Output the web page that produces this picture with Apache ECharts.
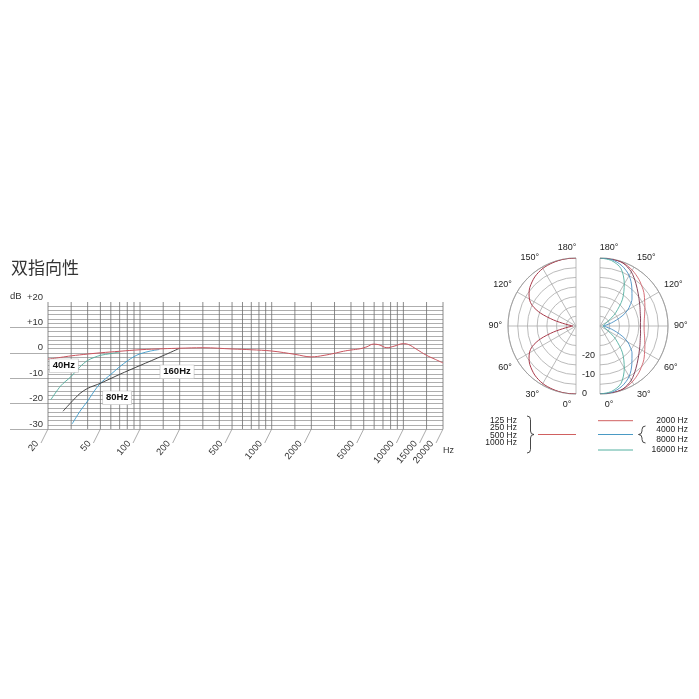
<!DOCTYPE html>
<html><head><meta charset="utf-8">
<script src="https://cdn.jsdelivr.net/npm/echarts@6/dist/echarts.min.js"></script>
<style>html,body{margin:0;padding:0;background:#fff}#c{width:699px;height:699px}</style>
</head><body><div id="c"></div><script>
// ---- frequency response chart data ----
const gridFreqs = [20,30,40,50,60,70,80,90,100,150,200,300,400,500,600,700,800,900,1000,1500,2000,3000,4000,5000,6000,7000,8000,9000,10000,15000,20000];
const tickLabels = [20,50,100,200,500,1000,2000,5000,10000,15000,20000];
const respFreq = [20,25,30,40,50,70,100,150,200,300,500,700,1000,1500,2000,2500,3000,3500,4000,4700,5300,5900,6500,7500,8500,10000,11000,12500,15000,17500,20000];
const respDb   = [-2.5,-1.8,-1.2,-0.5,0,0.6,1.2,1.6,1.8,2.0,1.5,1.2,0.7,-0.6,-1.6,-1.0,-0.2,0.6,1.1,1.6,2.4,3.4,3.2,2.0,2.6,3.6,3.2,1.5,-1.0,-2.6,-4.0];
const cut40Freq = [21,25,30,35,40,45,50,60,70];
const cut40Db   = [-18.5,-13,-9.3,-5.5,-3,-1.8,-1.0,-0.3,0.3];
const cut80Freq = [30.5,35,40,45,50,60,70,80,90,100,120,140];
const cut80Db   = [-28,-23,-19,-15,-12,-8.5,-5.5,-3.2,-1.5,-0.4,0.7,1.3];
const cut160Freq = [26,30,35,40,50,70,100,150,200];
const cut160Db   = [-23,-19.5,-16,-14,-12,-8.5,-5,-1.1,1.8];
const cutNames = ['40Hz','80Hz','160Hz'];
const cutLabelFreq = [26.4,67,191];
const cutLabelDb = [-5.1,-17.7,-7.5];

// ---- polar pattern data (angle in degrees, level in dB) ----
const polarAngles = [0,10,20,30,40,50,55,60,65,70,75,80,85,90,95,100,105,110,115,120,125,130,140,150,160,170,180];
const lowDb   = [0,0,-0.3,-0.8,-2.0,-4.0,-5.5,-7.3,-10.2,-15.5,-23,-29.5,-32.5,-33.3,-32.5,-29.5,-23,-15.5,-10.2,-7.3,-5.5,-4.0,-2.0,-0.8,-0.3,0,0];
const db2000  = [0,0,-0.4,-1.8,-3.8,-6.0,-7.2,-8.5,-9.5,-10.5,-11.2,-11.8,-12.2,-12.3,-12.2,-11.8,-11.2,-10.5,-9.5,-8.5,-7.2,-6.0,-3.8,-1.8,-0.4,0,0];
const db4000  = [0,0,-0.5,-2.8,-6.3,-9.3,-10.5,-11.5,-12.3,-13,-13.5,-13.8,-14.1,-14.2,-14.1,-13.8,-13.5,-13,-12.3,-11.5,-10.5,-9.3,-6.3,-2.8,-0.5,0,0];
const db8000  = [0,-0.3,-2,-5,-9.5,-13.5,-16,-18.5,-22,-26,-29,-31.5,-32.8,-33.3,-32.8,-31.5,-29,-26,-22,-18.5,-16,-13.5,-9.5,-5,-2,-0.3,0];
const db16000 = [0,-0.8,-3.5,-10,-17,-24.5,-28,-30.5,-31.8,-32.5,-33,-33.2,-33.3,-33.4,-33.3,-33.2,-33,-32.5,-31.8,-30.5,-28,-24.5,-17,-10,-3.5,-0.8,0];

const FONT = 'Liberation Sans';
const zip = (xs, ys) => xs.map((x, i) => [x, ys[i]]);
const polarData = (dbs) => dbs.map((d, i) => [d, polarAngles[i]]);

const chart = echarts.init(document.getElementById('c'), null, {renderer: 'canvas'});

function angleLabel(v) {
  if (v === 0 || v === 180) return '{s|' + v + '°}';
  return v + '°';
}

// brace decoration: dir = 1 points right, -1 points left
function brace(x, yTop, yMid, yBot, dir) {
  const h = 3.5 * dir, st = {stroke: '#333', lineWidth: 0.9, fill: null};
  const xs = x + h;
  return [
    {type: 'bezierCurve', shape: {x1: x, y1: yTop, cpx1: xs, cpy1: yTop, x2: xs, y2: yTop + 3.5}, style: st},
    {type: 'line', shape: {x1: xs, y1: yTop + 3.5, x2: xs, y2: yMid - 3.5}, style: st},
    {type: 'bezierCurve', shape: {x1: xs, y1: yMid - 3.5, cpx1: xs, cpy1: yMid, x2: xs + h, y2: yMid}, style: st},
    {type: 'bezierCurve', shape: {x1: xs + h, y1: yMid, cpx1: xs, cpy1: yMid, x2: xs, y2: yMid + 3.5}, style: st},
    {type: 'line', shape: {x1: xs, y1: yMid + 3.5, x2: xs, y2: yBot - 3.5}, style: st},
    {type: 'bezierCurve', shape: {x1: xs, y1: yBot - 3.5, cpx1: xs, cpy1: yBot, x2: x, y2: yBot}, style: st}
  ];
}

const angleCommon = {
  type: 'value', min: 0, max: 180, interval: 30,
  axisLine: {show: true, lineStyle: {color: '#999', width: 0.8}},
  axisTick: {show: false},
  splitLine: {show: true, lineStyle: {color: '#aaa', width: 0.8}}
};
const radiusCommon = {
  type: 'value', min: -35, max: 0, interval: 5,
  axisLine: {show: false}, axisTick: {show: false},
  splitLine: {show: true, lineStyle: {color: '#aaa', width: 0.8}}
};

const txt = (x, y, s, align) => ({type: 'text', x: x, y: y, style: {text: s, fontSize: 8.5, fill: '#222', fontFamily: FONT, align: align || 'right', verticalAlign: 'middle'}});

const option = {
  animation: false,
  title: {text: '双指向性', left: 6, top: 254, textStyle: {fontSize: 17, fontWeight: 'normal', color: '#333', fontFamily: 'Noto Sans CJK SC'}},
  grid: {left: 48, top: 302, width: 395, height: 127, containLabel: false},
  xAxis: {type: 'log', logBase: 10, min: 20, max: 20000,
    axisLine: {show: false}, axisTick: {show: false}, axisLabel: {show: false}, splitLine: {show: false}},
  yAxis: {type: 'value', min: -30, max: 20, interval: 10,
    axisLine: {show: false},
    axisTick: {show: true, inside: false, length: 38, lineStyle: {color: '#999', width: 0.8}, customValues: [-30, -20, -10, 0, 10]},
    axisLabel: {formatter: v => (v > 0 ? '+' + v : '' + v), verticalAlign: 'bottom', margin: 5, fontSize: 9.5, color: '#333', fontFamily: FONT},
    splitLine: {show: true, lineStyle: {color: '#999', width: 0.8}},
    minorTick: {show: false, splitNumber: 6},
    minorSplitLine: {show: true, lineStyle: {color: '#999', width: 0.8}}
  },
  polar: [
    {center: [576, 326], radius: 68},
    {center: [600, 326], radius: 68}
  ],
  angleAxis: [
    Object.assign({}, angleCommon, {polarIndex: 0, startAngle: 270, endAngle: 90, clockwise: true,
      axisLabel: {margin: 6, fontSize: 9, color: '#222', fontFamily: FONT, formatter: angleLabel,
        rich: {s: {fontSize: 9, color: '#222', fontFamily: FONT, padding: [0, 18, 0, 0]}}}}),
    Object.assign({}, angleCommon, {polarIndex: 1, startAngle: -90, endAngle: 90, clockwise: false,
      axisLabel: {margin: 6, fontSize: 9, color: '#222', fontFamily: FONT, formatter: angleLabel,
        rich: {s: {fontSize: 9, color: '#222', fontFamily: FONT, padding: [0, 0, 0, 18]}}}})
  ],
  radiusAxis: [
    Object.assign({}, radiusCommon, {polarIndex: 0,
      axisLabel: {show: true, fontSize: 9, color: '#222', fontFamily: FONT, margin: 6,
        formatter: v => ([-20, -10, 0].indexOf(v) >= 0 ? String(v) : '')}}),
    Object.assign({}, radiusCommon, {polarIndex: 1, axisLabel: {show: false}})
  ],
  graphic: {elements: [
    {type: 'text', x: 10, y: 296, style: {text: 'dB', fontSize: 9.5, fill: '#333', fontFamily: FONT, verticalAlign: 'middle'}},
    {type: 'text', x: 443, y: 451, style: {text: 'Hz', fontSize: 9, fill: '#333', fontFamily: FONT, verticalAlign: 'middle'}},
    txt(517, 420.5, '125 Hz'), txt(517, 428, '250 Hz'), txt(517, 435.5, '500 Hz'), txt(517, 443, '1000 Hz'),
    txt(688, 420.7, '2000 Hz'), txt(688, 430, '4000 Hz'), txt(688, 439.7, '8000 Hz'), txt(688, 450, '16000 Hz'),
    {type: 'line', shape: {x1: 538, y1: 434.5, x2: 576, y2: 434.5}, style: {stroke: '#d06060', lineWidth: 1}},
    {type: 'line', shape: {x1: 598, y1: 420.7, x2: 633, y2: 420.7}, style: {stroke: '#d06060', lineWidth: 1}},
    {type: 'line', shape: {x1: 598, y1: 434.5, x2: 633, y2: 434.5}, style: {stroke: '#4a9ac4', lineWidth: 1}},
    {type: 'line', shape: {x1: 598, y1: 450, x2: 633, y2: 450}, style: {stroke: '#52b0a0', lineWidth: 1}}
  ].concat(brace(527, 416, 434.5, 453, 1), brace(645.5, 426, 434.5, 443, -1))},
  series: [
    {type: 'custom', name: 'vgrid', xAxisIndex: 0, yAxisIndex: 0, silent: true, z: 1, clip: false,
      data: gridFreqs.map(f => [f, -30]), encode: {x: 0, y: 1},
      renderItem: (p, api) => {
        const f = api.value(0);
        const a = api.coord([f, 20]), b = api.coord([f, -30]);
        return {type: 'line', shape: {x1: a[0], y1: a[1], x2: b[0], y2: b[1]}, style: {stroke: '#6e6e6e', lineWidth: 0.8}};
      }},
    {type: 'custom', name: 'xlabels', xAxisIndex: 0, yAxisIndex: 0, silent: true, z: 1, clip: false,
      data: tickLabels.map(f => [f, -30]), encode: {x: 0, y: 1},
      renderItem: (p, api) => {
        const f = api.value(0);
        const b = api.coord([f, -30]);
        return {type: 'group', children: [
          {type: 'line', shape: {x1: b[0], y1: b[1], x2: b[0] - 7, y2: b[1] + 14}, style: {stroke: '#888', lineWidth: 0.7}},
          {type: 'text', x: b[0] - 11, y: b[1] + 13, rotation: 50 * Math.PI / 180,
            style: {text: String(f), align: 'right', verticalAlign: 'middle', fontSize: 9.5, fill: '#333', fontFamily: FONT}}
        ]};
      }},
    {type: 'line', name: '40Hz', data: zip(cut40Freq, cut40Db), smooth: 0.3, showSymbol: false, lineStyle: {color: '#4daa9a', width: 0.9}, itemStyle: {color: '#4daa9a'}},
    {type: 'line', name: '80Hz', data: zip(cut80Freq, cut80Db), smooth: 0.3, showSymbol: false, lineStyle: {color: '#3d9ccc', width: 0.9}, itemStyle: {color: '#3d9ccc'}},
    {type: 'line', name: '160Hz', data: zip(cut160Freq, cut160Db), smooth: 0.3, showSymbol: false, lineStyle: {color: '#333', width: 0.9}, itemStyle: {color: '#333'}},
    {type: 'line', name: 'response', data: zip(respFreq, respDb), smooth: 0.4, showSymbol: false, lineStyle: {color: '#c9545e', width: 1}, itemStyle: {color: '#c9545e'},
      markPoint: {symbol: 'rect', symbolSize: 1, itemStyle: {color: 'rgba(0,0,0,0)'}, silent: true,
        label: {show: true, position: 'inside', formatter: '{b}', fontSize: 9.5, fontWeight: 'bold', color: '#111', fontFamily: FONT,
          backgroundColor: '#fff', borderColor: '#bbb', borderWidth: 0.6, padding: [2, 3, 1, 3]},
        data: cutNames.map((n, i) => ({name: n, coord: [cutLabelFreq[i], cutLabelDb[i]]}))}},
    {type: 'line', name: '125-1000 Hz', coordinateSystem: 'polar', polarIndex: 0, data: polarData(lowDb), smooth: 0.3, showSymbol: false, lineStyle: {color: '#a83a4a', width: 1}},
    {type: 'line', name: '2000 Hz', coordinateSystem: 'polar', polarIndex: 1, data: polarData(db2000), smooth: 0.3, showSymbol: false, lineStyle: {color: '#d0606a', width: 0.9}},
    {type: 'line', name: '4000 Hz', coordinateSystem: 'polar', polarIndex: 1, data: polarData(db4000), smooth: 0.3, showSymbol: false, lineStyle: {color: '#7a3048', width: 0.9}},
    {type: 'line', name: '8000 Hz', coordinateSystem: 'polar', polarIndex: 1, data: polarData(db8000), smooth: 0.3, showSymbol: false, lineStyle: {color: '#4a90c4', width: 0.9}},
    {type: 'line', name: '16000 Hz', coordinateSystem: 'polar', polarIndex: 1, data: polarData(db16000), smooth: 0.3, showSymbol: false, lineStyle: {color: '#52b0a0', width: 0.9}}
  ]
};
chart.setOption(option);
</script></body></html>
